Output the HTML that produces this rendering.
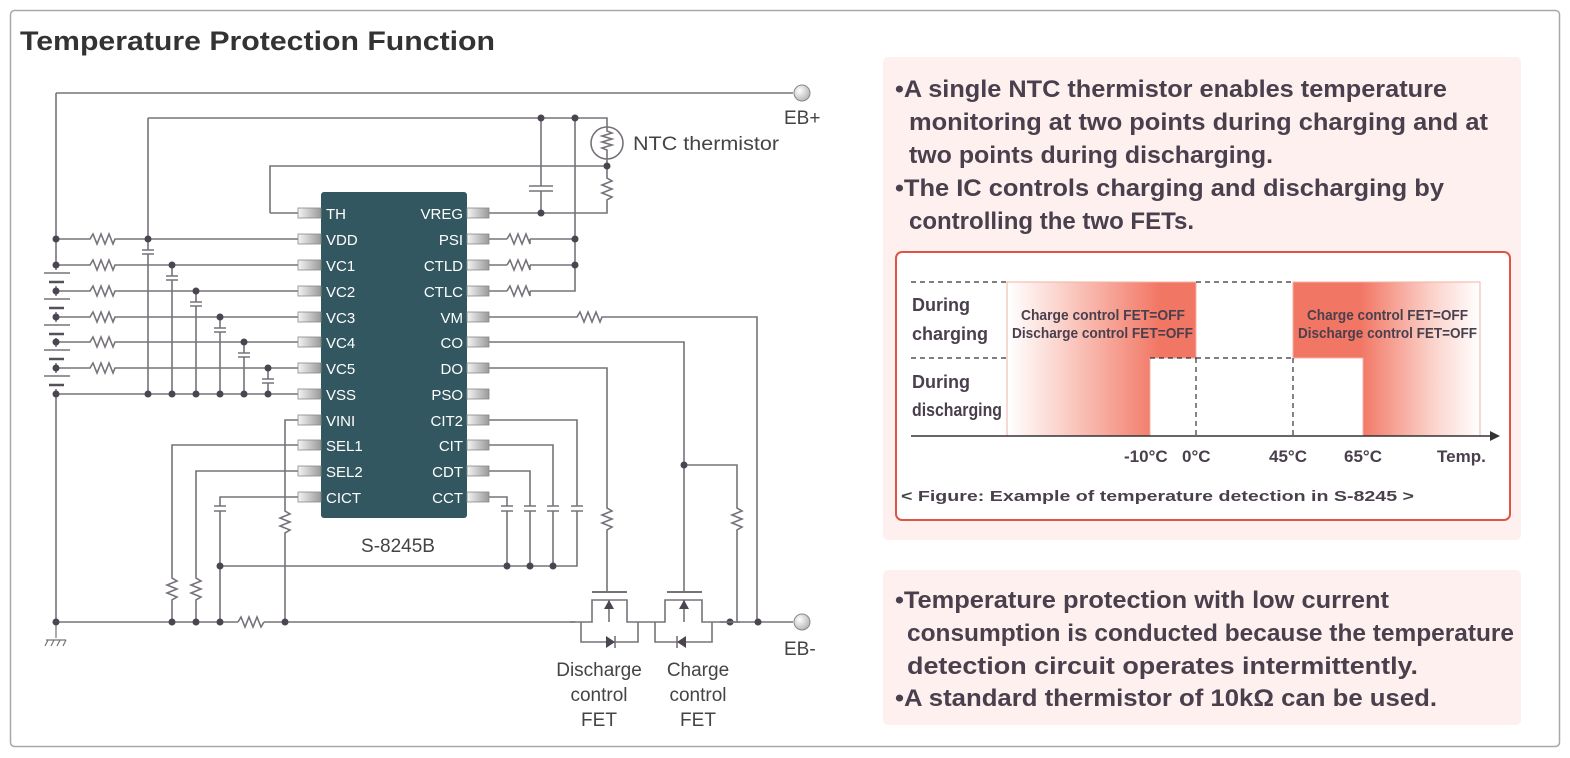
<!DOCTYPE html>
<html><head><meta charset="utf-8"><style>
html,body{margin:0;padding:0;background:#fff;}
svg{display:block;}
</style></head><body>
<svg width="1570" height="758" viewBox="0 0 1570 758" xmlns="http://www.w3.org/2000/svg" font-family="Liberation Sans, DejaVu Sans, sans-serif">
<defs>
<linearGradient id="gl" gradientUnits="userSpaceOnUse" x1="1008" y1="0" x2="1160" y2="0">
<stop offset="0" stop-color="#fff"/><stop offset="0.35" stop-color="#fbd2ca"/><stop offset="1" stop-color="#f27664"/></linearGradient>
<linearGradient id="gr" gradientUnits="userSpaceOnUse" x1="1360" y1="0" x2="1480" y2="0">
<stop offset="0" stop-color="#f27664"/><stop offset="0.6" stop-color="#fbd2ca"/><stop offset="1" stop-color="#fff"/></linearGradient>
<linearGradient id="pin" x1="0" y1="0" x2="1" y2="0"><stop offset="0" stop-color="#f4f4f4"/><stop offset="1" stop-color="#9a9a9a"/></linearGradient>
<radialGradient id="term" cx="0.35" cy="0.35" r="0.8"><stop offset="0" stop-color="#fff"/><stop offset="1" stop-color="#aaa"/></radialGradient>
</defs>
<rect x="10.5" y="10.5" width="1549" height="736" rx="4" fill="#fff" stroke="#a8a8a8" stroke-width="1.5"/>
<text x="20" y="50" font-size="27" font-weight="bold" fill="#333" textLength="475" lengthAdjust="spacingAndGlyphs">Temperature Protection Function</text>

<!-- right panels -->
<rect x="883" y="57" width="638" height="483" rx="5" fill="#fdf0ee"/>
<rect x="883" y="570" width="638" height="155" rx="5" fill="#fdf0ee"/>
<g font-size="24" font-weight="bold" fill="#4a3f4c" lengthAdjust="spacingAndGlyphs">
<text x="895" y="97" textLength="552" lengthAdjust="spacingAndGlyphs">•A single NTC thermistor enables temperature</text>
<text x="909" y="130" textLength="579" lengthAdjust="spacingAndGlyphs">monitoring at two points during charging and at</text>
<text x="909" y="163" textLength="364" lengthAdjust="spacingAndGlyphs">two points during discharging.</text>
<text x="895" y="196" textLength="549" lengthAdjust="spacingAndGlyphs">•The IC controls charging and discharging by</text>
<text x="909" y="229" textLength="285" lengthAdjust="spacingAndGlyphs">controlling the two FETs.</text>
<text x="895" y="608" textLength="494" lengthAdjust="spacingAndGlyphs">•Temperature protection with low current</text>
<text x="907" y="641" textLength="607" lengthAdjust="spacingAndGlyphs">consumption is conducted because the temperature</text>
<text x="907" y="674" textLength="511" lengthAdjust="spacingAndGlyphs">detection circuit operates intermittently.</text>
<text x="895" y="706" textLength="542" lengthAdjust="spacingAndGlyphs">•A standard thermistor of 10kΩ can be used.</text>
</g>
<!-- chart -->
<rect x="896" y="252" width="614" height="268" rx="6" fill="#fff" stroke="#e05443" stroke-width="2"/>
<polygon points="1007,282 1196,282 1196,358 1150,358 1150,436 1007,436" fill="url(#gl)" stroke="#f6b0a6"/>
<polygon points="1293,282 1480,282 1480,436 1363,436 1363,358 1293,358" fill="url(#gr)" stroke="#f6b0a6"/>
<g stroke="#333" stroke-width="1.2" stroke-dasharray="5,4" fill="none">
<line x1="911" y1="282" x2="1007" y2="282"/><line x1="1196" y1="282" x2="1293" y2="282"/>
<line x1="911" y1="358" x2="1007" y2="358"/><line x1="1196" y1="358" x2="1293" y2="358"/><line x1="1150" y1="358" x2="1196" y2="358"/>
<line x1="1196" y1="358" x2="1196" y2="436"/><line x1="1293" y1="358" x2="1293" y2="436"/>
</g>
<line x1="911" y1="436" x2="1492" y2="436" stroke="#333" stroke-width="1.5"/>
<polygon points="1500,436 1490,431 1490,441" fill="#333"/>
<g font-size="18" fill="#4a3f4c" font-weight="bold">
<text x="912" y="311">During</text><text x="912" y="340">charging</text>
<text x="912" y="388">During</text><text x="912" y="416" textLength="90" lengthAdjust="spacingAndGlyphs">discharging</text>
</g>
<g font-size="15" fill="#4a3f4c" font-weight="bold">
<text x="1021" y="320" textLength="164" lengthAdjust="spacingAndGlyphs">Charge control FET=OFF</text><text x="1012" y="338" textLength="181" lengthAdjust="spacingAndGlyphs">Discharge control FET=OFF</text>
<text x="1307" y="320" textLength="161" lengthAdjust="spacingAndGlyphs">Charge control FET=OFF</text><text x="1298" y="338" textLength="179" lengthAdjust="spacingAndGlyphs">Discharge control FET=OFF</text>
</g>
<g font-size="17" fill="#4a3f4c" font-weight="bold">
<text x="1124" y="462">-10°C</text><text x="1182" y="462">0°C</text><text x="1269" y="462">45°C</text><text x="1344" y="462">65°C</text><text x="1437" y="462">Temp.</text>
<text x="901" y="501" font-size="15" textLength="513" lengthAdjust="spacingAndGlyphs">&lt; Figure: Example of temperature detection in S-8245 &gt;</text>
</g>

<!-- circuit wires -->
<g stroke="#77727a" stroke-width="1.6" fill="none">
<path d="M56 93 H793 M56 93 V622 M56 622 H793"/>
<path d="M148 118 H607 V127 M148 118 V394"/>
<path d="M270 213 V166 H607 V159 M270 213 H298"/>
<path d="M607 166 V178 l5 3 l-10 4 l10 4 l-10 4 l10 4 l-5 3 V213 H489"/>
<path d="M541 118 V186 M529 186 H553 M529 191 H553 M541 191 V213"/>
<path d="M575 118 V291 H530 M489 239 H507 M489 265 H507 M489 291 H507 M530 239 H575 M530 265 H575"/>
<path d="M507 239 l3 -5 l4 10 l4 -10 l4 10 l4 -10 l4 10 l0 -5 M507 265 l3 -5 l4 10 l4 -10 l4 10 l4 -10 l4 10 l0 -5 M507 291 l3 -5 l4 10 l4 -10 l4 10 l4 -10 l4 10 l0 -5"/>
<path d="M489 317 H577 l3 -5 l4 10 l4 -10 l4 10 l4 -10 l4 10 l2 -5 H757 V622"/>
<path d="M489 342 H684 V592 M684 465 H737 V508 l5 3 l-10 4 l10 4 l-10 4 l10 4 l-5 3 V622"/>
<path d="M489 368 H607 V508 l5 3 l-10 4 l10 4 l-10 4 l10 4 l-5 3 V592"/>
<path d="M489 420 H577 V506 M571 506 H583 M571 511 H583 M577 511 V566 H220"/>
<path d="M489 445 H553 V506 M547 506 H559 M547 511 H559 M553 511 V566"/>
<path d="M489 471 H530 V506 M524 506 H536 M524 511 H536 M530 511 V566"/>
<path d="M489 497 H507 V506 M501 506 H513 M501 511 H513 M507 511 V566"/>
<path d="M298 497 H220 V506 M214 506 H226 M214 511 H226 M220 511 V622"/>
<path d="M298 420 H285 V511 l5 3 l-10 4 l10 4 l-10 4 l10 4 l-5 3 V622"/>
<path d="M298 445 H172 V578 l5 3 l-10 4 l10 4 l-10 4 l10 4 l-5 3 V622"/>
<path d="M298 471 H196 V578 l5 3 l-10 4 l10 4 l-10 4 l10 4 l-5 3 V622"/>
</g>
<rect x="238" y="615" width="26" height="14" fill="#fff"/>
<path d="M238 622 l3 -5 l4 10 l4 -10 l4 10 l4 -10 l4 10 l3 -5" stroke="#77727a" stroke-width="1.6" fill="none"/>
<!-- left rows -->
<g stroke="#77727a" stroke-width="1.6" fill="none">
<path d="M56 239 H90 l3 -5 l4 10 l4 -10 l4 10 l4 -10 l4 10 l2 -5 H298"/>
<path d="M56 265 H90 l3 -5 l4 10 l4 -10 l4 10 l4 -10 l4 10 l2 -5 H298"/>
<path d="M56 291 H90 l3 -5 l4 10 l4 -10 l4 10 l4 -10 l4 10 l2 -5 H298"/>
<path d="M56 317 H90 l3 -5 l4 10 l4 -10 l4 10 l4 -10 l4 10 l2 -5 H298"/>
<path d="M56 342 H90 l3 -5 l4 10 l4 -10 l4 10 l4 -10 l4 10 l2 -5 H298"/>
<path d="M56 368 H90 l3 -5 l4 10 l4 -10 l4 10 l4 -10 l4 10 l2 -5 H298"/>
<path d="M56 394 H298"/>
<path d="M172 265 V394 M196 291 V394 M220 317 V394 M244 342 V394 M268 368 V394"/>
</g>
<g fill="#fff" stroke="none">
<rect x="140" y="250" width="16" height="4"/><rect x="164" y="276" width="16" height="4"/><rect x="188" y="302" width="16" height="4"/><rect x="212" y="328" width="16" height="4"/><rect x="236" y="353" width="16" height="4"/><rect x="260" y="379" width="16" height="4"/>
<rect x="48" y="270" width="16" height="16"/><rect x="48" y="296" width="16" height="16"/><rect x="48" y="322" width="16" height="16"/><rect x="48" y="347" width="16" height="16"/><rect x="48" y="373" width="16" height="16"/>
</g>
<g stroke="#77727a" stroke-width="1.6">
<path d="M142 250 H154 M142 254 H154 M166 276 H178 M166 280 H178 M190 302 H202 M190 306 H202 M214 328 H226 M214 332 H226 M238 353 H250 M238 357 H250 M262 379 H274 M262 383 H274"/>
<path d="M44 273 H70 M44 299 H70 M44 325 H70 M44 350 H70 M44 376 H70"/>
</g>
<g stroke="#55505a" stroke-width="2.4">
<path d="M49 282 H64 M49 308 H64 M49 334 H64 M49 359 H64 M49 385 H64"/>
</g>
<g stroke="#77727a" stroke-width="1.2"><path d="M56 622 V638 M46 640 H66 M48 640 l-3 6 M54 640 l-3 6 M60 640 l-3 6 M66 640 l-3 6"/></g>
<g fill="#4a4550">
<circle cx="56" cy="239" r="3.5"/><circle cx="56" cy="265" r="3.5"/><circle cx="56" cy="291" r="3.5"/><circle cx="56" cy="317" r="3.5"/><circle cx="56" cy="342" r="3.5"/><circle cx="56" cy="368" r="3.5"/><circle cx="56" cy="394" r="3.5"/>
<circle cx="148" cy="239" r="3.5"/><circle cx="172" cy="265" r="3.5"/><circle cx="196" cy="291" r="3.5"/><circle cx="220" cy="317" r="3.5"/><circle cx="244" cy="342" r="3.5"/><circle cx="268" cy="368" r="3.5"/>
<circle cx="148" cy="394" r="3.5"/><circle cx="172" cy="394" r="3.5"/><circle cx="196" cy="394" r="3.5"/><circle cx="220" cy="394" r="3.5"/><circle cx="244" cy="394" r="3.5"/><circle cx="268" cy="394" r="3.5"/>
<circle cx="541" cy="118" r="3.5"/><circle cx="575" cy="118" r="3.5"/><circle cx="607" cy="166" r="3.5"/><circle cx="541" cy="213" r="3.5"/><circle cx="575" cy="239" r="3.5"/><circle cx="575" cy="265" r="3.5"/>
<circle cx="684" cy="465" r="3.5"/>
<circle cx="220" cy="566" r="3.5"/><circle cx="507" cy="566" r="3.5"/><circle cx="530" cy="566" r="3.5"/><circle cx="553" cy="566" r="3.5"/>
<circle cx="56" cy="622" r="3.5"/><circle cx="172" cy="622" r="3.5"/><circle cx="196" cy="622" r="3.5"/><circle cx="220" cy="622" r="3.5"/><circle cx="285" cy="622" r="3.5"/>
<circle cx="581" cy="622" r="3.5"/><circle cx="638" cy="622" r="3.5"/><circle cx="655" cy="622" r="3.5"/><circle cx="712" cy="622" r="3.5"/><circle cx="730" cy="622" r="3.5"/><circle cx="758" cy="622" r="3.5"/>
</g>
<rect x="575" y="600" width="145" height="50" fill="#fff"/>
<g stroke="#77727a" stroke-width="1.6" fill="none">
<path d="M570 622 H592 V600 H627 V622 H665 V600 H702 V622 H740"/>
<path d="M609 600 V622 M684 600 V622"/>
<path d="M592 592 H627 M667 592 H702" stroke-width="2"/>
<path d="M581 622 V642 H638 V622 M655 622 V642 H712 V622"/>
<path d="M615 636 V648 M677 636 V648"/>
</g>
<g fill="#4a4550">
<polygon points="609,600 604,609 614,609"/><polygon points="684,600 679,609 689,609"/>
<polygon points="615,642 606,636 606,648"/><polygon points="677,642 686,636 686,648"/>
</g>
<circle cx="607" cy="143" r="16" fill="#fff" stroke="#77727a" stroke-width="1.6"/>
<path d="M607 127 V131 l5 2 l-10 3 l10 3 l-10 3 l10 3 l-10 3 l5 2 V159" stroke="#77727a" stroke-width="1.6" fill="none"/>
<ellipse cx="802" cy="93" rx="8" ry="8" fill="url(#term)" stroke="#888"/>
<ellipse cx="802" cy="622" rx="8" ry="8" fill="url(#term)" stroke="#888"/>
<g fill="#444" font-size="19">
<text x="784" y="124">EB+</text><text x="784" y="655">EB-</text>
<text x="633" y="150" textLength="146" lengthAdjust="spacingAndGlyphs">NTC thermistor</text>
<text x="398" y="552" text-anchor="middle">S-8245B</text>
<g text-anchor="middle"><text x="599" y="676">Discharge</text><text x="599" y="701">control</text><text x="599" y="726">FET</text>
<text x="698" y="676">Charge</text><text x="698" y="701">control</text><text x="698" y="726">FET</text></g>
</g>
<rect x="321" y="192" width="146" height="326" rx="3" fill="#335760"/>
<g fill="url(#pin)" stroke="#888" stroke-width="0.8">
<rect x="298" y="208" width="23" height="10"/><rect x="298" y="234" width="23" height="10"/><rect x="298" y="260" width="23" height="10"/><rect x="298" y="286" width="23" height="10"/><rect x="298" y="312" width="23" height="10"/><rect x="298" y="337" width="23" height="10"/><rect x="298" y="363" width="23" height="10"/><rect x="298" y="389" width="23" height="10"/><rect x="298" y="415" width="23" height="10"/><rect x="298" y="440" width="23" height="10"/><rect x="298" y="466" width="23" height="10"/><rect x="298" y="492" width="23" height="10"/>
<rect x="467" y="208" width="22" height="10"/><rect x="467" y="234" width="22" height="10"/><rect x="467" y="260" width="22" height="10"/><rect x="467" y="286" width="22" height="10"/><rect x="467" y="312" width="22" height="10"/><rect x="467" y="337" width="22" height="10"/><rect x="467" y="363" width="22" height="10"/><rect x="467" y="389" width="22" height="10"/><rect x="467" y="415" width="22" height="10"/><rect x="467" y="440" width="22" height="10"/><rect x="467" y="466" width="22" height="10"/><rect x="467" y="492" width="22" height="10"/>
</g>
<g fill="#fff" font-size="15">
<text x="326" y="219">TH</text><text x="326" y="245">VDD</text><text x="326" y="271">VC1</text><text x="326" y="297">VC2</text><text x="326" y="323">VC3</text><text x="326" y="348">VC4</text><text x="326" y="374">VC5</text><text x="326" y="400">VSS</text><text x="326" y="426">VINI</text><text x="326" y="451">SEL1</text><text x="326" y="477">SEL2</text><text x="326" y="503">CICT</text>
<g text-anchor="end"><text x="463" y="219">VREG</text><text x="463" y="245">PSI</text><text x="463" y="271">CTLD</text><text x="463" y="297">CTLC</text><text x="463" y="323">VM</text><text x="463" y="348">CO</text><text x="463" y="374">DO</text><text x="463" y="400">PSO</text><text x="463" y="426">CIT2</text><text x="463" y="451">CIT</text><text x="463" y="477">CDT</text><text x="463" y="503">CCT</text></g>
</g>
</svg>
</body></html>
